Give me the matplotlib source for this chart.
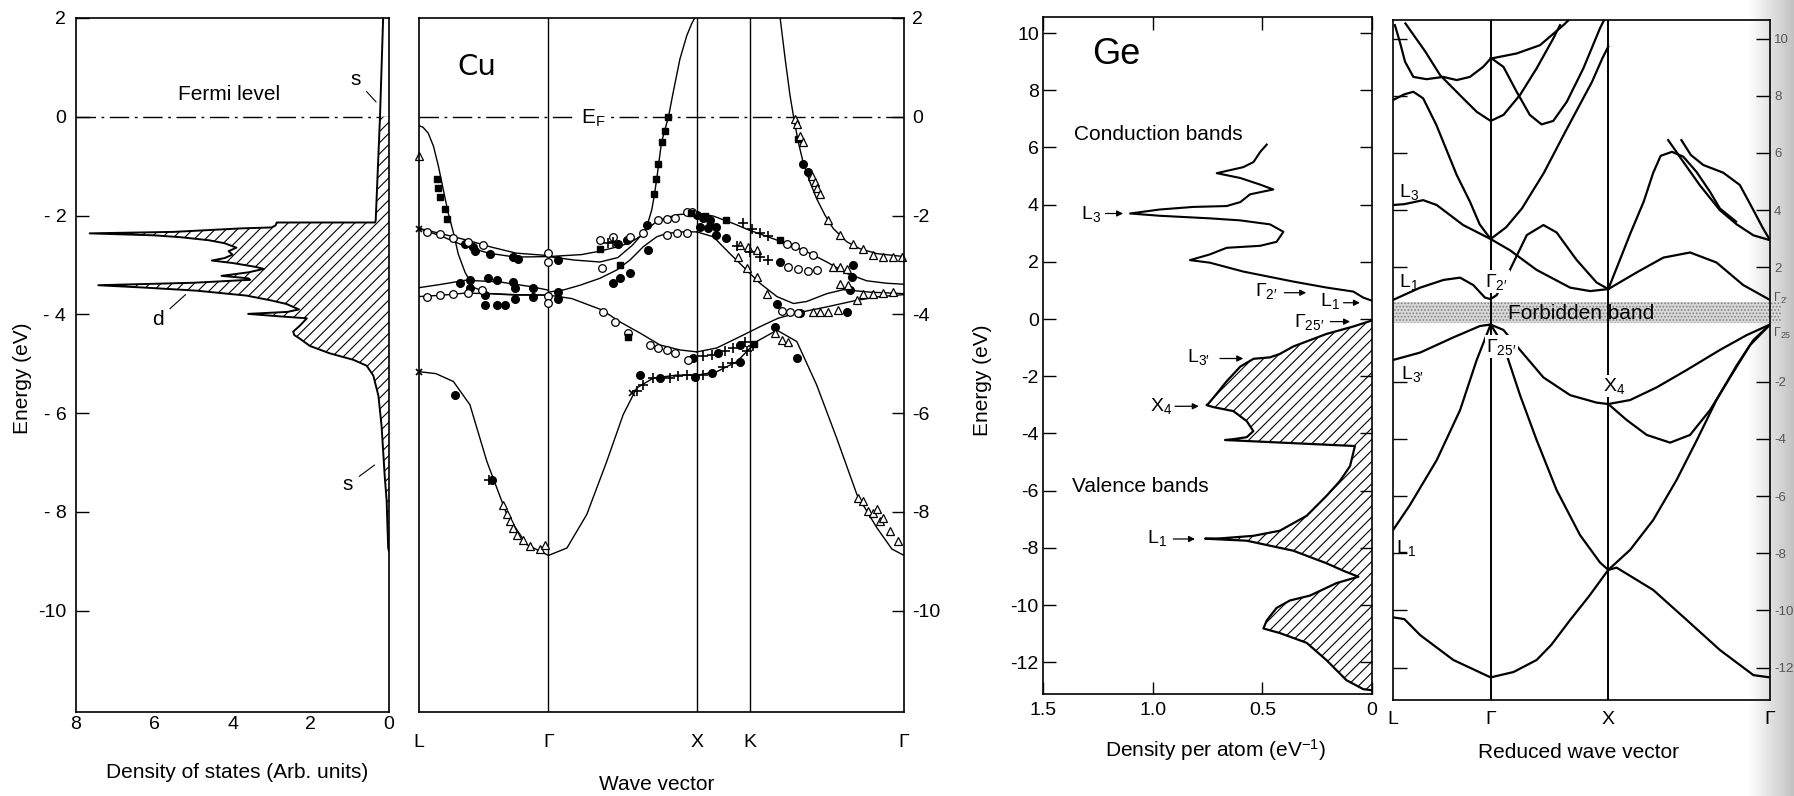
import numpy as np
import matplotlib
matplotlib.use('Agg')
import matplotlib.pyplot as plt

plt.rcParams['font.family'] = ['Liberation Sans', 'DejaVu Sans']
plt.rcParams['mathtext.fontset'] = 'custom'
plt.rcParams['mathtext.rm'] = 'Liberation Sans'
plt.rcParams['mathtext.it'] = 'Liberation Sans:italic'
plt.rcParams['hatch.linewidth'] = 0.8
plt.rcParams['axes.unicode_minus'] = False

# ---------------- Cu density of states ----------------
cu_dos_e = [2.0, 0.0, -2.10, -2.14, -2.14, -2.20, -2.24, -2.26, -2.33, -2.36, -2.40, -2.44,
            -2.50, -2.56, -2.65, -2.72, -2.79, -2.86, -2.91, -2.96, -3.04, -3.08, -3.15, -3.22,
            -3.27, -3.30, -3.36, -3.41, -3.46, -3.52, -3.62, -3.72, -3.79, -3.90, -3.95, -3.99,
            -4.04, -4.08, -4.23, -4.35, -4.42, -4.48, -4.64, -4.79, -4.92, -5.04, -5.24, -5.65,
            -6.26, -6.76, -7.27, -7.77, -8.28, -8.73, -8.80]
cu_dos = [0.15, 0.23, 0.34, 0.36, 2.87, 2.90, 3.00, 3.80, 5.50, 7.65, 6.00, 5.30,
          4.60, 4.20, 3.90, 4.10, 4.00, 4.20, 4.53, 4.00, 3.40, 3.20, 3.60, 4.28,
          3.60, 3.55, 5.00, 7.43, 6.20, 4.92, 3.64, 3.00, 2.62, 2.30, 2.60, 3.60,
          2.80, 2.10, 2.28, 2.45, 2.42, 2.30, 2.02, 1.51, 0.91, 0.57, 0.40, 0.27,
          0.19, 0.15, 0.11, 0.06, 0.04, 0.02, 0.0]
cu_dos_xticks = [8, 6, 4, 2, 0]
cu_yticks = [2, 0, -2, -4, -6, -8, -10]
cu_yticklabels = ['2', '0', '- 2', '- 4', '- 6', '- 8', '-10']

# ---------------- Cu bands (path fraction L..Gamma, energy eV) ----------------
cu_kpts = [0.0, 0.267, 0.573, 0.682, 1.0]
cu_klabels = ['L', 'Γ', 'X', 'K', 'Γ']

cu_band_s = [(0.0, -5.16), (0.035, -5.20), (0.071, -5.36), (0.105, -5.83), (0.140, -6.98),
             (0.181, -8.05), (0.222, -8.66), (0.267, -8.88), (0.305, -8.73), (0.346, -8.05),
             (0.387, -6.98), (0.421, -6.03), (0.449, -5.49), (0.483, -5.29), (0.531, -5.23),
             (0.573, -5.23), (0.614, -5.16), (0.655, -4.96), (0.696, -4.55), (0.738, -4.32),
             (0.779, -4.55), (0.820, -5.43), (0.861, -6.50), (0.903, -7.65), (0.944, -8.32),
             (0.975, -8.75), (1.0, -8.88)]
cu_L_sp = [(0.0, -0.18), (0.008, -0.21), (0.019, -0.33), (0.030, -0.60), (0.040, -1.00),
           (0.050, -1.47), (0.060, -1.94), (0.071, -2.35), (0.081, -2.78), (0.095, -3.15),
           (0.112, -3.45), (0.143, -3.58), (0.198, -3.61), (0.267, -3.61)]
cu_L_d1 = [(0.0, -2.26), (0.047, -2.42), (0.095, -2.62), (0.143, -2.76), (0.198, -2.84), (0.267, -2.83)]
cu_L_d2 = [(0.0, -2.26), (0.047, -2.37), (0.100, -2.50), (0.150, -2.64), (0.200, -2.76), (0.267, -2.81)]
cu_L_d3 = [(0.0, -3.46), (0.047, -3.39), (0.095, -3.31), (0.164, -3.34), (0.232, -3.44), (0.267, -3.51)]
cu_L_d4 = [(0.0, -3.64), (0.050, -3.61), (0.095, -3.57), (0.150, -3.58), (0.200, -3.60), (0.267, -3.61)]
cu_GX_b1 = [(0.267, -2.83), (0.335, -2.79), (0.373, -2.72), (0.410, -2.63), (0.435, -2.55),
            (0.456, -2.42), (0.466, -2.30), (0.474, -2.08), (0.480, -1.88), (0.485, -1.60),
            (0.490, -1.27), (0.500, -0.52), (0.507, -0.26), (0.514, -0.02), (0.524, 0.49),
            (0.538, 1.17), (0.552, 1.64), (0.562, 1.88), (0.569, 2.01)]
cu_GX_b2 = [(0.267, -2.83), (0.320, -2.90), (0.373, -2.94), (0.410, -2.85), (0.440, -2.60),
            (0.465, -2.32), (0.490, -2.12), (0.511, -2.04), (0.535, -1.98), (0.573, -1.95)]
cu_GX_b3 = [(0.267, -3.55), (0.300, -3.50), (0.332, -3.41), (0.373, -3.27), (0.408, -3.10),
            (0.435, -2.90), (0.4625, -2.63), (0.490, -2.43), (0.511, -2.36), (0.545, -2.33), (0.573, -2.33)]
cu_GX_b4 = [(0.267, -3.61), (0.315, -3.68), (0.377, -3.91), (0.414, -4.15), (0.456, -4.38),
            (0.497, -4.62), (0.538, -4.72), (0.573, -4.76)]
cu_XG_c1 = [(0.573, -1.95), (0.607, -2.01), (0.648, -2.16), (0.682, -2.30), (0.717, -2.42),
            (0.758, -2.57), (0.799, -2.73), (0.841, -2.94), (0.882, -3.17), (0.923, -3.32),
            (0.964, -3.37), (1.0, -3.39)]
cu_XG_c2 = [(0.573, -2.33), (0.607, -2.43), (0.641, -2.77), (0.669, -3.04), (0.703, -3.37),
            (0.738, -3.64), (0.772, -3.78), (0.799, -3.74), (0.841, -3.58), (0.875, -3.50),
            (0.930, -3.55), (1.0, -3.58)]
cu_XG_c3 = [(0.573, -4.76), (0.614, -4.68), (0.662, -4.45), (0.703, -4.25), (0.740, -4.08),
            (0.780, -3.97), (0.840, -3.85), (0.900, -3.72), (0.950, -3.64), (1.0, -3.60)]
cu_XG_c4 = [(0.744, 2.05), (0.755, 1.17), (0.765, 0.43), (0.773, -0.04), (0.782, -0.51),
            (0.792, -0.92), (0.806, -1.32), (0.820, -1.66), (0.837, -1.99), (0.854, -2.26),
            (0.882, -2.53), (0.909, -2.67), (0.944, -2.77), (1.0, -2.83)]

# experimental points
cu_filled_circ = [(0.095, -2.57), (0.112, -2.63), (0.1155, -2.71), (0.146, -2.77), (0.1945, -2.83),
                  (0.205, -2.87), (0.287, -2.90), (0.0845, -3.37), (0.105, -3.31), (0.143, -3.27),
                  (0.160, -3.31), (0.1945, -3.34), (0.198, -3.47), (0.198, -3.68), (0.2357, -3.47),
                  (0.2357, -3.64), (0.287, -3.54), (0.287, -3.68), (0.136, -3.61), (0.136, -3.81),
                  (0.160, -3.81), (0.177, -3.81), (0.105, -3.47), (0.074, -5.63), (0.150, -7.35),
                  (0.411, -2.57), (0.428, -2.50), (0.4695, -2.20), (0.473, -2.70), (0.435, -3.16),
                  (0.414, -3.27), (0.400, -3.37), (0.5726, -1.99), (0.586, -2.04), (0.600, -2.08),
                  (0.579, -2.23), (0.5965, -2.26), (0.6124, -2.23), (0.6124, -2.40), (0.634, -2.46),
                  (0.4557, -5.23), (0.497, -5.28), (0.569, -5.26), (0.6035, -5.19), (0.662, -4.96),
                  (0.617, -4.79), (0.662, -4.62), (0.5656, -4.89), (0.744, -2.94), (0.8955, -3.00),
                  (0.892, -3.24), (0.8887, -3.51), (0.7375, -3.78), (0.7856, -3.98), (0.882, -3.95),
                  (0.734, -4.25), (0.779, -4.89), (0.792, -0.95), (0.803, -1.12)]
cu_filled_sq = [(0.0365, -1.25), (0.040, -1.45), (0.043, -1.62), (0.0536, -1.86), (0.057, -2.06),
                (0.514, -0.01), (0.507, -0.28), (0.5004, -0.51), (0.4934, -0.95), (0.4887, -1.25),
                (0.4845, -1.56), (0.373, -2.67), (0.414, -3.00), (0.560, -1.95), (0.590, -2.00),
                (0.634, -2.09), (0.744, -2.50), (0.782, -0.44), (0.600, -2.20), (0.4316, -4.45),
                (0.690, -4.60)]
cu_open_circ = [(0.016, -2.33), (0.043, -2.38), (0.0707, -2.46), (0.1017, -2.53), (0.1326, -2.59),
                (0.2666, -2.75), (0.2666, -2.94), (0.016, -3.64), (0.043, -3.61), (0.0707, -3.59),
                (0.1017, -3.56), (0.129, -3.51), (0.2666, -3.63), (0.2666, -3.76), (0.3766, -3.07),
                (0.380, -3.95), (0.373, -2.50), (0.4006, -2.43), (0.435, -2.43), (0.4625, -2.36),
                (0.4934, -2.09), (0.5107, -2.06), (0.528, -2.04), (0.552, -1.93), (0.562, -1.93),
                (0.5107, -2.40), (0.531, -2.36), (0.552, -2.35), (0.404, -4.15), (0.4316, -4.38),
                (0.476, -4.62), (0.4934, -4.69), (0.5107, -4.72), (0.528, -4.79), (0.5553, -4.92),
                (0.758, -2.57), (0.775, -2.62), (0.792, -2.71), (0.813, -2.80), (0.7615, -3.04),
                (0.782, -3.09), (0.803, -3.12), (0.820, -3.10), (0.748, -3.94), (0.765, -3.96),
                (0.782, -3.98)]
cu_open_tri = [(0.0, -0.80), (0.174, -7.85), (0.181, -8.05), (0.188, -8.19), (0.1945, -8.32),
               (0.2014, -8.46), (0.215, -8.56), (0.229, -8.69), (0.2495, -8.76), (0.260, -8.66),
               (0.906, -7.72), (0.916, -7.78), (0.926, -7.99), (0.937, -8.02), (0.944, -7.95),
               (0.9505, -8.19), (0.957, -8.12), (0.971, -8.39), (0.988, -8.59), (0.734, -4.38),
               (0.748, -4.52), (0.761, -4.55), (0.775, -0.04), (0.779, -0.14), (0.7856, -0.38),
               (0.792, -0.51), (0.810, -1.19), (0.8165, -1.32), (0.820, -1.45), (0.827, -1.56),
               (0.844, -2.09), (0.868, -2.40), (0.8955, -2.57), (0.916, -2.67), (0.937, -2.80),
               (0.957, -2.83), (0.978, -2.83), (0.995, -2.83), (0.662, -2.60), (0.679, -2.63),
               (0.696, -2.70), (0.658, -2.83), (0.6756, -3.07), (0.696, -3.24), (0.717, -3.58),
               (0.813, -3.95), (0.827, -3.95), (0.844, -3.95), (0.8646, -3.91), (0.9025, -3.71),
               (0.916, -3.58), (0.937, -3.58), (0.957, -3.56), (0.978, -3.54), (0.868, -3.39),
               (0.885, -3.41), (0.854, -3.04), (0.868, -3.04), (0.882, -3.09)]
cu_plus = [(0.449, -5.56), (0.4625, -5.43), (0.483, -5.29), (0.5175, -5.28), (0.5347, -5.25),
           (0.552, -5.23), (0.586, -5.23), (0.6275, -5.06), (0.645, -4.99), (0.6756, -4.75),
           (0.689, -4.65), (0.586, -4.85), (0.6035, -4.82), (0.631, -4.75), (0.648, -4.69),
           (0.672, -4.55), (0.669, -2.16), (0.686, -2.28), (0.703, -2.36), (0.720, -2.42),
           (0.655, -2.62), (0.6825, -2.73), (0.703, -2.83), (0.720, -2.89), (0.4006, -2.53),
           (0.390, -2.55), (0.145, -7.35)]
cu_cross = [(0.0, -2.28), (0.0, -5.16), (0.440, -5.60)]

# ---------------- Ge density of states ----------------
ge_cond_e = [6.10, 5.84, 5.49, 5.31, 5.10, 4.93, 4.70, 4.53, 4.36, 4.09, 3.95, 3.92, 3.83, 3.69,
             3.61, 3.52, 3.45, 3.31, 3.05, 2.70, 2.56, 2.49, 2.26, 2.06, 1.97, 1.66, 1.31, 1.10,
             0.96, 0.75, 0.64]
ge_cond_d = [0.48, 0.51, 0.54, 0.587, 0.708, 0.60, 0.51, 0.45, 0.556, 0.60, 0.663, 0.815, 0.967,
             1.103, 0.967, 0.739, 0.602, 0.465, 0.404, 0.435, 0.51, 0.663, 0.739, 0.83, 0.739,
             0.587, 0.359, 0.207, 0.085, 0.040, 0.0]
ge_val_e = [-0.05, -0.26, -0.52, -0.96, -1.22, -1.34, -1.39, -1.66, -2.18, -2.61, -2.96, -3.01,
            -3.08, -3.22, -3.57, -3.92, -4.13, -4.20, -4.23, -4.44, -5.14, -5.66, -6.18, -6.88,
            -7.40, -7.58, -7.67, -7.68, -7.75, -8.10, -8.54, -8.80, -9.01, -9.23, -9.67, -9.84,
            -10.10, -10.54, -10.82, -10.98, -11.32, -11.93, -12.63, -12.94, -12.98]
ge_val_d = [0.0, 0.085, 0.207, 0.359, 0.42, 0.465, 0.54, 0.60, 0.663, 0.708, 0.746, 0.754,
            0.723, 0.632, 0.571, 0.541, 0.571, 0.632, 0.67, 0.078, 0.10, 0.146, 0.207, 0.298,
            0.42, 0.541, 0.693, 0.761, 0.571, 0.359, 0.207, 0.131, 0.062, 0.161, 0.283, 0.374,
            0.435, 0.48, 0.495, 0.42, 0.298, 0.207, 0.116, 0.04, 0.0]
ge_dos_xticks = [1.5, 1.0, 0.5, 0]
ge_dos_xticklabels = ['1.5', '1.0', '0.5', '0']
ge_yticks = [10, 8, 6, 4, 2, 0, -2, -4, -6, -8, -10, -12]

# ---------------- Ge bands (path fraction, energy eV) ----------------
ge_kpts = [0.0, 0.259, 0.571, 1.0]
ge_klabels = ['L', 'Γ', 'X', 'Γ']
ge_v1 = [(0.0, -10.24), (0.03, -10.30), (0.072, -10.86), (0.16, -11.73), (0.259, -12.34),
         (0.32, -12.15), (0.381, -11.73), (0.42, -11.20), (0.47, -10.33), (0.52, -9.50),
         (0.571, -8.58), (0.593, -8.50), (0.69, -9.28), (0.779, -10.33), (0.867, -11.38),
         (0.956, -12.26), (1.0, -12.34)]
ge_v2_lg = [(0.0, -7.19), (0.045, -6.31), (0.116, -4.74), (0.178, -2.99), (0.222, -1.24), (0.259, 0.0)]
ge_v2_gx = [(0.259, 0.0), (0.293, -0.72), (0.337, -2.47), (0.381, -4.04), (0.434, -5.79),
            (0.496, -7.36), (0.549, -8.32), (0.571, -8.58)]
ge_v2_xg = [(0.571, -8.58), (0.629, -7.88), (0.69, -6.84), (0.752, -5.44), (0.806, -4.04),
            (0.858, -2.64), (0.912, -1.42), (0.956, -0.54), (1.0, 0.0)]
ge_v3_lg = [(0.0, -1.24), (0.072, -0.98), (0.16, -0.45), (0.231, -0.05), (0.259, 0.0)]
ge_v3_gx = [(0.259, 0.0), (0.293, -0.19), (0.337, -0.89), (0.399, -1.85), (0.47, -2.47),
            (0.54, -2.73), (0.571, -2.78)]
ge_v3_xg_lo = [(0.571, -2.78), (0.62, -3.34), (0.673, -3.86), (0.735, -4.13), (0.788, -3.86),
               (0.841, -2.99), (0.894, -1.85), (0.947, -0.72), (1.0, 0.0)]
ge_v3_xg_hi = [(0.571, -2.78), (0.629, -2.64), (0.699, -2.20), (0.779, -1.59), (0.867, -0.89),
               (0.938, -0.37), (1.0, 0.0)]
ge_c1 = [(0.0, 0.86), (0.072, 1.29), (0.134, 1.56), (0.178, 1.64), (0.213, 1.38), (0.244, 0.94),
         (0.259, 0.89), (0.275, 1.03), (0.31, 1.91), (0.355, 3.13), (0.399, 3.48), (0.434, 3.22),
         (0.487, 2.26), (0.54, 1.47), (0.571, 1.24)]
ge_c2 = [(0.0, 4.18), (0.03, 4.21), (0.08, 4.35), (0.116, 4.18), (0.186, 3.48), (0.259, 2.99),
         (0.31, 2.60), (0.381, 1.91), (0.47, 1.29), (0.523, 1.17), (0.571, 1.24)]
ge_c3 = [(0.571, 1.24), (0.646, 1.82), (0.717, 2.34), (0.788, 2.52), (0.858, 2.17), (0.929, 1.38), (1.0, 0.86)]
ge_c4 = [(0.571, 1.24), (0.60, 2.20), (0.63, 3.20), (0.665, 4.30), (0.69, 5.30), (0.71, 5.90),
         (0.74, 6.04), (0.77, 5.87), (0.805, 5.34), (0.841, 4.64), (0.867, 4.06), (0.91, 3.60)]
ge_c5 = [(0.73, 6.45), (0.77, 5.69), (0.814, 4.87), (0.867, 4.00), (0.912, 3.50), (0.956, 3.12), (1.0, 2.95)]
ge_c6 = [(0.765, 6.45), (0.79, 5.93), (0.823, 5.58), (0.876, 5.31), (0.92, 4.88), (0.956, 4.00),
         (0.98, 3.40), (1.0, 2.95)]
ge_c7 = [(0.0, 7.85), (0.03, 8.05), (0.054, 8.14), (0.08, 7.91), (0.115, 6.98), (0.169, 5.23),
         (0.204, 4.30), (0.23, 3.50), (0.259, 2.99)]
ge_c8 = [(0.259, 2.99), (0.30, 3.40), (0.342, 4.06), (0.40, 5.30), (0.457, 6.74), (0.50, 7.80),
         (0.528, 8.49), (0.555, 9.30), (0.571, 9.72)]
ge_c9 = [(0.005, 10.47), (0.018, 9.89), (0.032, 9.19), (0.054, 8.66), (0.089, 8.58), (0.133, 8.66),
         (0.169, 8.55), (0.204, 8.66), (0.239, 9.01), (0.259, 9.30), (0.328, 9.48), (0.39, 9.77),
         (0.452, 10.47), (0.47, 10.70)]
ge_c10 = [(0.033, 10.53), (0.086, 9.54), (0.125, 8.72), (0.186, 7.91), (0.222, 7.44), (0.259, 7.12),
          (0.293, 7.33), (0.337, 8.03), (0.381, 8.96), (0.425, 10.0), (0.443, 10.47)]
ge_c11 = [(0.259, 9.33), (0.293, 9.01), (0.328, 8.14), (0.363, 7.33), (0.394, 7.00), (0.425, 7.12),
          (0.461, 7.79), (0.505, 8.96), (0.549, 10.36), (0.56, 10.65)]
ge_gap = (0.05, 0.78)


def draw(ax, pts, **kw):
    x, y = zip(*pts)
    ax.plot(x, y, **kw)


def scatter(ax, pts, **kw):
    x, y = zip(*pts)
    ax.plot(x, y, linestyle='none', **kw)


fig = plt.figure(figsize=(17.94, 7.96), dpi=100)
W, H = 1794.0, 796.0
fermi_ls = (0, (14, 4, 2, 4))

# right-edge page shading
shade = fig.add_axes([1748 / W, 0, 46 / W, 1], zorder=-5)
shade.imshow([np.linspace(1.0, 0.76, 60)], cmap='gray', vmin=0, vmax=1,
             aspect='auto', extent=[0, 1, 0, 1])
shade.axis('off')

# ---- panel 1: Cu DOS ----
ax1 = fig.add_axes([76 / W, 84 / H, 313 / W, 694 / H])
e = np.array(cu_dos_e)
d = np.array(cu_dos)
ax1.fill_betweenx(e, 0, d, where=e <= 0.0, facecolor='white', edgecolor='black',
                  hatch='///', linewidth=0, zorder=2)
ax1.plot(d, e, color='black', lw=1.4, zorder=3)
ax1.axhline(0, color='black', lw=1.0, ls=fermi_ls, zorder=1)
ax1.set_xlim(8, 0)
ax1.set_ylim(-12.05, 2.0)
ax1.set_xticks(cu_dos_xticks)
ax1.set_yticks(cu_yticks)
ax1.set_yticklabels(cu_yticklabels)
ax1.tick_params(axis='x', length=0, pad=3, labelsize=14)
ax1.tick_params(axis='y', direction='in', length=9, width=1, pad=7, labelsize=14)
ax1.text(4.1, 0.45, 'Fermi level', ha='center', va='center', fontsize=15)
ax1.annotate('s', xy=(0.33, 0.30), xytext=(0.85, 0.75), ha='center', va='center', fontsize=15,
             arrowprops=dict(arrowstyle='-', lw=0.8, shrinkA=3, shrinkB=0))
ax1.annotate('d', xy=(5.2, -3.6), xytext=(5.9, -4.1), ha='center', va='center', fontsize=15,
             arrowprops=dict(arrowstyle='-', lw=0.8, shrinkA=3, shrinkB=0))
ax1.annotate('s', xy=(0.37, -7.05), xytext=(1.05, -7.45), ha='center', va='center', fontsize=15,
             arrowprops=dict(arrowstyle='-', lw=0.8, shrinkA=3, shrinkB=0))
for sp in ax1.spines.values():
    sp.set_linewidth(1.2)

# ---- panel 2: Cu bands ----
ax2 = fig.add_axes([419 / W, 84 / H, 485 / W, 694 / H])
ax2.set_xlim(0, 1)
ax2.set_ylim(-12.05, 2.0)
for k in cu_kpts[1:4]:
    ax2.axvline(k, color='black', lw=1.0)
ax2.axhline(0, color='black', lw=1.0, ls=fermi_ls)
for band in [cu_band_s, cu_L_sp, cu_L_d1, cu_L_d2, cu_L_d3, cu_L_d4, cu_GX_b1, cu_GX_b2,
             cu_GX_b3, cu_GX_b4, cu_XG_c1, cu_XG_c2, cu_XG_c3, cu_XG_c4]:
    draw(ax2, band, color='black', lw=1.0)
scatter(ax2, cu_filled_circ, marker='o', ms=5.5, mfc='black', mec='black', clip_on=False)
scatter(ax2, cu_open_circ, marker='o', ms=5.5, mfc='white', mec='black', mew=0.9, clip_on=False)
scatter(ax2, cu_filled_sq, marker='s', ms=5, mfc='black', mec='black', clip_on=False)
scatter(ax2, cu_open_tri, marker='^', ms=5.5, mfc='white', mec='black', mew=0.9, clip_on=False)
scatter(ax2, cu_plus, marker='+', ms=6.5, mec='black', mew=1.2)
scatter(ax2, cu_cross, marker='x', ms=5, mec='black', mew=1.2, clip_on=False)
ax2.text(0.36, -0.04, r'E$_\mathrm{F}$', ha='center', va='center', fontsize=15,
         bbox=dict(facecolor='white', edgecolor='none', pad=3))
ax2.text(0.12, 1.0, 'Cu', ha='center', va='center', fontsize=21, family='DejaVu Sans')
ax2.set_xticks(cu_kpts)
ax2.set_xticklabels(cu_klabels)
ax2.tick_params(axis='x', length=0, pad=16, labelsize=14)
ax2.yaxis.tick_right()
ax2.set_yticks(cu_yticks)
ax2.tick_params(axis='y', direction='in', length=9, width=1, pad=6, labelsize=14,
                right=True, left=False, labelright=True, labelleft=False)
for sp in ax2.spines.values():
    sp.set_linewidth(1.2)

fig.text(23 / W, 1 - 378 / H, 'Energy (eV)', rotation=90, ha='center', va='center', fontsize=15)
fig.text(237 / W, 1 - 773 / H, 'Density of states (Arb. units)', ha='center', va='center', fontsize=15)
fig.text(657 / W, 1 - 784 / H, 'Wave vector', ha='center', va='center', fontsize=15)

# ---- panel 3: Ge DOS ----
ax3 = fig.add_axes([1043 / W, 102 / H, 329 / W, 677 / H])
ax3.set_xlim(1.5, 0)
ax3.set_ylim(-13.11, 10.56)
ax3.plot(ge_cond_d, ge_cond_e, color='black', lw=1.5)
ax3.fill_betweenx(ge_val_e, 0, ge_val_d, facecolor='white', edgecolor='black',
                  hatch='///', linewidth=0)
ax3.plot(ge_val_d, ge_val_e, color='black', lw=1.6)
ax3.set_xticks(ge_dos_xticks)
ax3.set_xticklabels(ge_dos_xticklabels)
ax3.set_yticks(ge_yticks)
ax3.tick_params(axis='both', direction='in', length=9, width=1, labelsize=14,
                top=True, right=True)
ax3.tick_params(axis='x', pad=6)
ax3.tick_params(axis='y', pad=3)
ax3.text(1.275, 9.25, 'Ge', ha='left', va='center', fontsize=26)
ax3.text(1.36, 6.45, 'Conduction bands', ha='left', va='center', fontsize=15)
ax3.text(1.37, -5.87, 'Valence bands', ha='left', va='center', fontsize=15)
arrow_kw = dict(arrowstyle='-|>', lw=0.9, color='black', mutation_scale=9, shrinkA=0, shrinkB=0)
for lab, tx, ty, x0, x1, ya in [
        (r'L$_3$', 1.28, 3.66, 1.215, 1.135, 3.69),
        (r'Γ$_{2\prime}$', 0.48, 0.99, 0.40, 0.30, 0.92),
        (r'L$_1$', 0.19, 0.62, 0.13, 0.055, 0.57),
        (r'Γ$_{25\prime}$', 0.285, -0.10, 0.19, 0.10, -0.09),
        (r'L$_{3\prime}$', 0.79, -1.34, 0.693, 0.587, -1.38),
        (r'X$_4$', 0.96, -3.05, 0.898, 0.79, -3.05),
        (r'L$_1$', 0.98, -7.67, 0.906, 0.807, -7.69)]:
    ax3.text(tx, ty, lab, ha='center', va='center', fontsize=14)
    ax3.annotate('', xy=(x1, ya), xytext=(x0, ya), arrowprops=arrow_kw)
for sp in ax3.spines.values():
    sp.set_linewidth(1.2)

# ---- panel 4: Ge bands ----
ax4 = fig.add_axes([1393 / W, 96 / H, 377 / W, 680 / H])
ax4.set_facecolor('none')
ax4.set_xlim(0, 1)
ax4.set_ylim(-13.13, 10.65)
ax4.axhspan(ge_gap[0], ge_gap[1], xmin=0, xmax=1.03, facecolor='#d8d8d8', edgecolor='#808080',
            hatch='.....', linewidth=0, clip_on=False, zorder=1)
for k in ge_kpts[1:3]:
    ax4.axvline(k, color='black', lw=1.4, zorder=2)
for band in [ge_v1, ge_v2_lg, ge_v2_gx, ge_v2_xg, ge_v3_lg, ge_v3_gx, ge_v3_xg_lo, ge_v3_xg_hi,
             ge_c1, ge_c2, ge_c3, ge_c4, ge_c5, ge_c6, ge_c7, ge_c8, ge_c9, ge_c10, ge_c11]:
    draw(ax4, band, color='black', lw=1.6, zorder=3)
lab_bbox = dict(facecolor='white', edgecolor='none', pad=1)
ax4.text(0.015, 4.63, r'L$_3$', ha='left', va='center', fontsize=14)
ax4.text(0.015, 1.49, r'L$_1$', ha='left', va='center', fontsize=14)
ax4.text(0.245, 1.50, r'Γ$_{2\prime}$', ha='left', va='center', fontsize=14, bbox=lab_bbox, zorder=4)
ax4.text(0.50, 0.40, 'Forbidden band', ha='center', va='center', fontsize=15, zorder=4)
ax4.text(0.247, -0.78, r'Γ$_{25\prime}$', ha='left', va='center', fontsize=14, bbox=lab_bbox, zorder=4)
ax4.text(0.02, -1.73, r'L$_{3\prime}$', ha='left', va='center', fontsize=14)
ax4.text(0.557, -2.15, r'X$_4$', ha='left', va='center', fontsize=14, bbox=lab_bbox, zorder=4)
ax4.text(0.008, -7.80, r'L$_1$', ha='left', va='center', fontsize=14)
ax4.text(1.008, 0.90, r'Γ$_{2\prime}$', ha='left', va='center', fontsize=9, color='#555555', clip_on=False)
ax4.text(1.008, -0.30, r'Γ$_{25}$', ha='left', va='center', fontsize=9, color='#555555', clip_on=False)
ax4.set_xticks(ge_kpts)
ax4.set_xticklabels(ge_klabels)
ax4.tick_params(axis='x', length=0, pad=8, labelsize=14)
ax4.set_yticks([t for t in ge_yticks if t != 0])
ax4.tick_params(axis='y', direction='in', length=10, width=1, left=True, right=True,
                labelleft=False, labelright=True, pad=3, labelsize=9.5, labelcolor='#555555')
for sp in ax4.spines.values():
    sp.set_linewidth(1.2)

fig.text(982 / W, 1 - 380 / H, 'Energy (eV)', rotation=90, ha='center', va='center', fontsize=15)
fig.text(1216 / W, 1 - 750 / H, r'Density per atom (eV$^{-1}$)', ha='center', va='center', fontsize=15)
fig.text(1578 / W, 1 - 752 / H, 'Reduced wave vector', ha='center', va='center', fontsize=15)

fig.savefig('out.png', dpi=100)
